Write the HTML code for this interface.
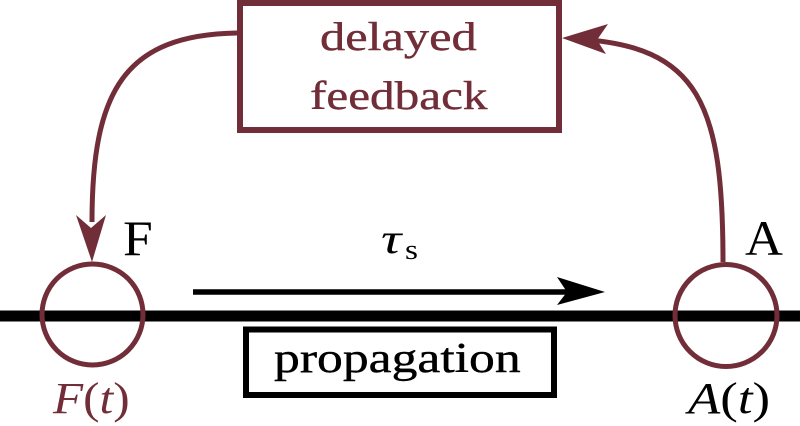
<!DOCTYPE html>
<html>
<head>
<meta charset="utf-8">
<style>
html,body{margin:0;padding:0;background:#fff;}
svg{display:block;}
</style>
</head>
<body>
<svg width="800" height="426" viewBox="0 0 800 426" xmlns="http://www.w3.org/2000/svg">
  <!-- main propagation line -->
  <rect x="0" y="310.5" width="800" height="11" fill="#000"/>

  <!-- tau arrow -->
  <line x1="193" y1="292" x2="570" y2="292" stroke="#000" stroke-width="5.5"/>
  <polygon points="605,292 557,277 567,292 557,305" fill="#000"/>

  <!-- propagation box -->
  <rect x="246" y="329.5" width="308" height="65.5" fill="#fff" stroke="#000" stroke-width="6"/>
  <g transform="translate(274,372) scale(1.23,1)">
    <text x="0" y="0" font-family="Liberation Serif, serif" font-size="42" stroke="#000" stroke-width="0.4" fill="#000">propagation</text>
  </g>

  <!-- delayed feedback box -->
  <rect x="240" y="3" width="319" height="127" fill="#fff" stroke="#722e38" stroke-width="6"/>
  <g transform="translate(320,50) scale(1.26,1)">
    <text x="0" y="0" font-family="Liberation Serif, serif" font-size="40" stroke="#722e38" stroke-width="0.4" fill="#722e38">delayed</text>
  </g>
  <g transform="translate(310,109) scale(1.23,1)">
    <text x="0" y="0" font-family="Liberation Serif, serif" font-size="40" stroke="#722e38" stroke-width="0.4" fill="#722e38">feedback</text>
  </g>

  <!-- left feedback curve -->
  <path d="M237,33 C125,35 92,90 92,222" fill="none" stroke="#722e38" stroke-width="5"/>
  <polygon points="92,262 76,215 91,228 106,215" fill="#722e38"/>

  <!-- right curve -->
  <path d="M723,262 C723,105 700,45 575,39" fill="none" stroke="#722e38" stroke-width="5"/>
  <polygon points="562,38 608,24 597,40 606,54" fill="#722e38"/>

  <!-- circles -->
  <circle cx="92.5" cy="314.5" r="50.5" fill="none" stroke="#722e38" stroke-width="5"/>
  <circle cx="726" cy="315.5" r="51" fill="none" stroke="#722e38" stroke-width="5"/>

  <!-- labels -->
  <g transform="translate(123,255) scale(1.07,1)">
    <text x="0" y="0" font-family="Liberation Serif, serif" font-size="50" fill="#000">F</text>
  </g>
  <g transform="translate(745,255) scale(1.05,1)">
    <text x="0" y="0" font-family="Liberation Serif, serif" font-size="50" fill="#000">A</text>
  </g>

  <g transform="translate(381,253) scale(1.35,1)">
    <text x="0" y="0" font-family="Liberation Serif, serif" font-style="italic" font-size="42" fill="#000">τ</text>
  </g>
  <g transform="translate(405,259) scale(1.15,1)">
    <text x="0" y="0" font-family="Liberation Serif, serif" font-size="29" fill="#000">s</text>
  </g>

  <g transform="translate(53,413) scale(1.12,1)">
    <text x="0" y="0" font-family="Liberation Serif, serif" font-size="44" fill="#722e38"><tspan font-style="italic">F</tspan>(<tspan font-style="italic">t</tspan>)</text>
  </g>
  <g transform="translate(688,413) scale(1.2,1)">
    <text x="0" y="0" font-family="Liberation Serif, serif" font-size="44" fill="#000"><tspan font-style="italic">A</tspan>(<tspan font-style="italic">t</tspan>)</text>
  </g>
</svg>
</body>
</html>
